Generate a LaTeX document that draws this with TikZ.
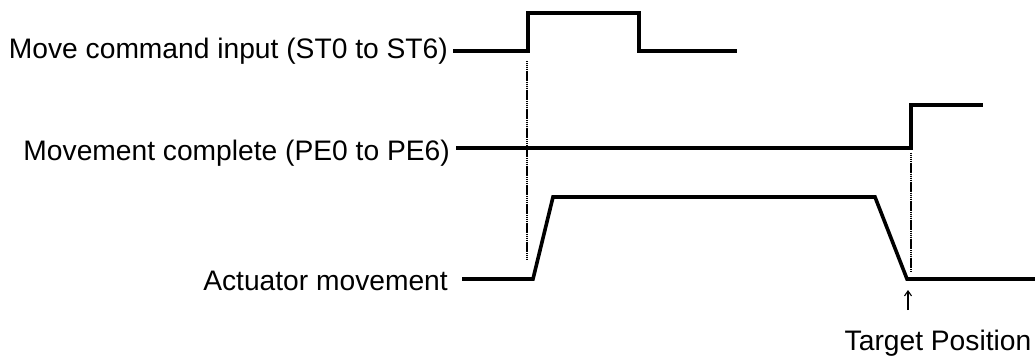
\documentclass[tikz,border=0pt]{standalone}
\usepackage{fontspec}
\setmainfont{Liberation Sans}
\usetikzlibrary{arrows.meta}
\begin{document}
\begin{tikzpicture}[x=1pt,y=-1pt,
  lbl/.style={anchor=base east,inner sep=0pt,font=\fontsize{28.2}{32}\selectfont},
  sig/.style={line width=3.6pt,line join=miter},
  guide/.style={line width=2pt,dash pattern=on 1.4pt off 0.5pt},
  tip/.style={line width=1.1pt,-{Straight Barb[length=5pt,width=7pt]}}]
\useasboundingbox (0,0) rectangle (1035,356);
% labels
\node[lbl] (l1) at (448,58) {Move command input (ST0 to ST6)};
\node[lbl] (l2) at (450,160) {Movement complete (PE0 to PE6)};
\node[lbl] (l3) at (448,290) {Actuator movement};
\node[anchor=base,inner sep=0pt,font=\fontsize{28.2}{32}\selectfont] (tp) at (938,350) {Target Position};
% signal 1
\coordinate (a0) at (453,51);
\coordinate (a1) at (528,51);
\coordinate (a2) at (528,13);
\coordinate (a3) at (639,13);
\coordinate (a4) at (639,51);
\coordinate (a5) at (737,51);
\draw[sig] (a0) -- (a1) -- (a2) -- (a3) -- (a4) -- (a5);
% signal 2
\coordinate (b0) at (456,148);
\coordinate (b1) at (911,148);
\coordinate (b2) at (911,105);
\coordinate (b3) at (983,105);
\draw[sig] (b0) -- (b1) -- (b2) -- (b3);
% signal 3
\coordinate (c0) at (462,279);
\coordinate (c1) at (533,279);
\coordinate (c2) at (553,197);
\coordinate (c3) at (875,197);
\coordinate (c4) at (907,279);
\coordinate (c5) at (1035,279);
\draw[sig] (c0) -- (c1) -- (c2) -- (c3) -- (c4) -- (c5);
% guides
\coordinate (g1a) at (527,61);
\coordinate (g1b) at (527,260);
\coordinate (g2a) at (911,153);
\coordinate (g2b) at (911,272);
\draw[guide] (g1a) -- (g1b);
\draw[guide] (g2a) -- (g2b);
% arrow
\coordinate (ar0) at (908,310);
\coordinate (ar1) at (908,290);
\draw[tip] (ar0) -- (ar1);
\end{tikzpicture}
\end{document}
